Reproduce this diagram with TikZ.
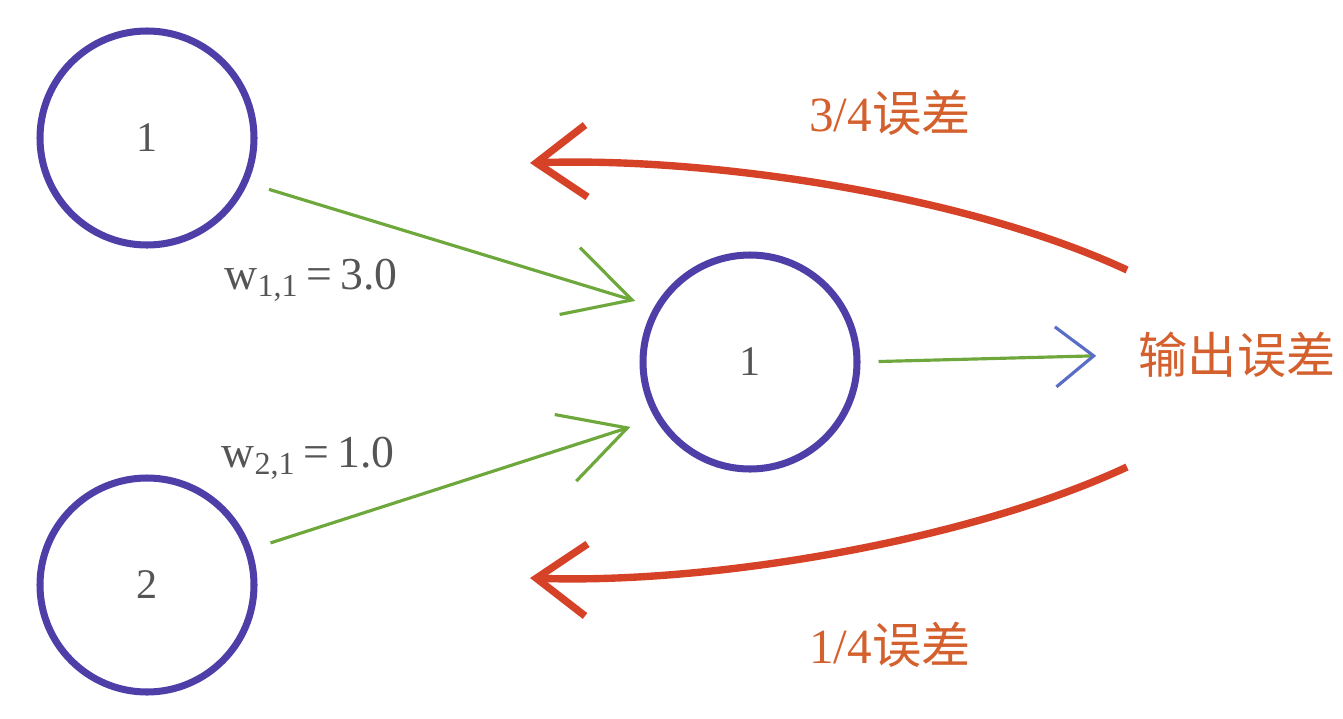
\documentclass[tikz,border=0pt]{standalone}
\usepackage{fontspec}
\setmainfont{Liberation Serif}
\newfontfamily\cjk{Noto Sans CJK SC}
\usetikzlibrary{arrows.meta}
\definecolor{neuronblue}{RGB}{78,62,168}
\definecolor{syngreen}{RGB}{110,168,60}
\definecolor{tipblue}{RGB}{90,110,200}
\definecolor{errred}{RGB}{214,66,40}
\definecolor{errtext}{RGB}{212,96,46}
\definecolor{wgray}{RGB}{85,85,85}

\begin{document}
\begin{tikzpicture}[
    neuron/.style={draw=neuronblue, circle, line width=2pt, minimum size=2.14cm, inner sep=0pt, font=\fontsize{12}{14}\selectfont, text=wgray},
    syn/.style={draw=syngreen, line width=0.9pt, -{Straight Barb[length=6.5mm,width=7mm]}},
    backerr/.style={draw=errred, line width=2.1pt, -{Straight Barb[length=5mm,width=7.2mm]}},
    wlabel/.style={font=\fontsize{13}{15}\selectfont, text=wgray},
    elabel/.style={font=\fontsize{14}{16}\selectfont, text=errtext}
]
    \useasboundingbox (0,0) rectangle (13.43,7.18);

    \node[neuron] (ni1) at (1.47,5.80) {1};
    \node[neuron] (ni2) at (1.47,1.33) {2};
    \node[neuron] (nh1) at (7.50,3.56) {1};
    \node[elabel] (out) at (12.37,3.63) {\cjk 输出误差};

    \draw[syn, shorten <=2.2mm, shorten >=2mm] (ni1.-24) -- (nh1.150);
    \draw[syn, shorten <=2mm, shorten >=2.6mm] (ni2.19) -- (nh1.211);
    \draw[syn, shorten <=1.8mm, shorten >=3mm,
        -{Straight Barb[length=3.8mm,width=6mm,color=tipblue]}] (nh1.east) -- (out.west);

    \node[wlabel] (w11) at (3.11,4.38) {w\textsubscript{1,1}\,=\,3.0};
    \node[wlabel] (w21) at (3.08,2.60) {w\textsubscript{2,1}\,=\,1.0};

    % errors split back to the inputs
    \coordinate (e1) at (11.27,4.48);
    \coordinate (b1) at (5.30,5.55);
    \coordinate (e2) at (11.27,2.51);
    \coordinate (b2) at (5.30,1.40);
    \draw[backerr] (e1) to[out=155, in=2, looseness=0.75] (b1);
    \draw[backerr] (e2) to[out=205, in=-2, looseness=0.75] (b2);

    \node[elabel] (t34) at (8.90,6.05) {3/4\cjk 误差};
    \node[elabel] (t14) at (8.90,0.73) {1/4\cjk 误差};

\end{tikzpicture}
\end{document}
